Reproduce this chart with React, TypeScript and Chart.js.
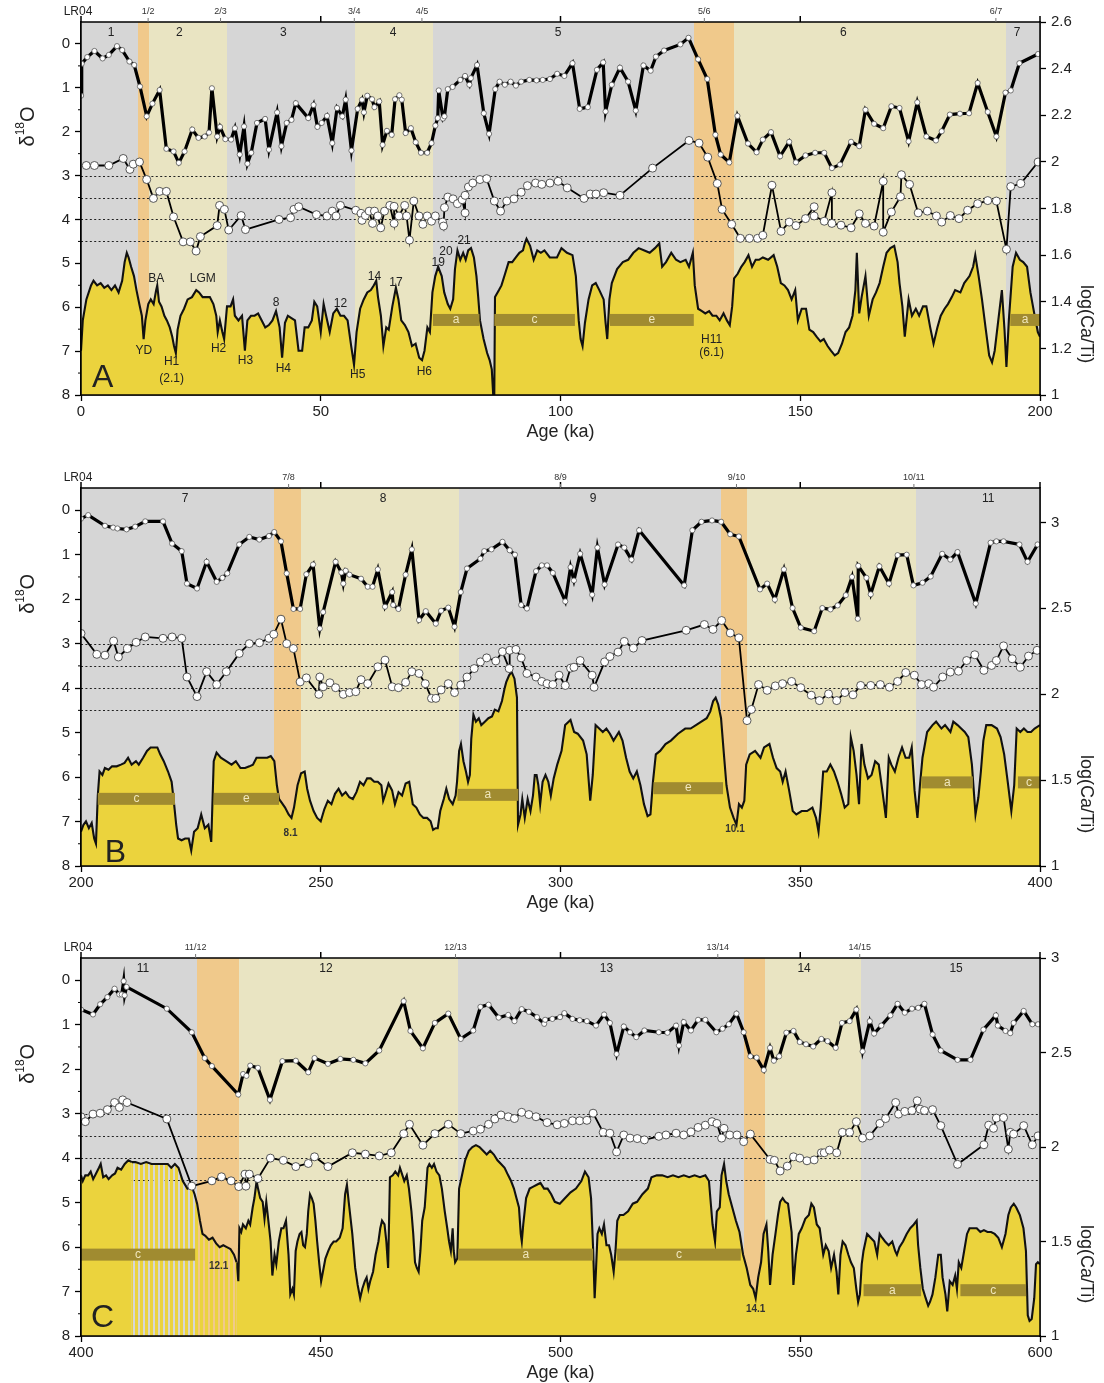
import React, { useEffect, useRef } from "react";
import { Chart, registerables } from "chart.js";

Chart.register(...registerables);

type Pair = [number, number];
type Band = [number, number, string];
type Bar = [number, number, number, string];
type Note = [string, number, number];
type Label = [string, number];

// ================= Panel A (0–200 ka) =================
const upperA: Pair[] = [
  [0, 1.18], [0.15, 0.45], [1.3, 0.3], [2.8, 0.16], [4.5, 0.33], [5.8, 0.25], [7.5, 0.05], [8.6, 0.14], [10.1, 0.4], [11.1, 0.48],
  [12.3, 0.97], [13.7, 1.65], [14.9, 1.36], [16.4, 1.05], [17.8, 2.39], [19.3, 2.45], [20.4, 2.71], [21.6, 2.45], [23.2, 1.95], [24.5, 2.14],
  [25.8, 2.11], [26.7, 2.02], [27.3, 1.01], [28.4, 2.11], [29.0, 1.89], [30.1, 2.17], [31.3, 2.18], [32.1, 1.92], [33.1, 2.52], [34.0, 1.88],
  [34.7, 2.73], [35.5, 2.48], [36.7, 1.8], [38.4, 1.71], [39.2, 2.41], [40.9, 1.56], [41.8, 2.33], [42.9, 1.8], [43.9, 1.73], [44.8, 1.35],
  [47.4, 1.69], [48.5, 1.39], [49.3, 1.89], [50.2, 1.8], [51.3, 1.64], [52.4, 2.26], [53.4, 1.46], [54.5, 1.65], [55.2, 1.27], [56.4, 2.43],
  [57.7, 1.48], [58.6, 1.27], [59.0, 1.56], [59.7, 1.18], [60.7, 1.26], [61.2, 1.44], [62.2, 1.31], [62.9, 2.3], [63.8, 1.98], [64.8, 2.07],
  [65.5, 1.26], [66.4, 1.17], [66.9, 1.27], [67.7, 2.03], [68.8, 1.92], [69.8, 2.24], [70.9, 2.48], [72.2, 2.48], [73.1, 2.26], [73.9, 1.86],
  [74.4, 1.69], [74.6, 1.06], [75.5, 1.7], [75.8, 1.65], [76.5, 1.03], [77.5, 0.98], [79.1, 0.82], [80.1, 0.73], [81.0, 0.93], [81.3, 0.78],
  [82.6, 0.48], [84.0, 1.58], [85.1, 2.05], [86.4, 1.03], [87.3, 0.86], [88.4, 0.93], [89.6, 0.86], [90.7, 0.95], [91.8, 0.86], [93.5, 0.82],
  [95.0, 0.83], [96.3, 0.82], [97.8, 0.8], [99.3, 0.68], [100.8, 0.73], [102.5, 0.44], [104.0, 1.48], [105.7, 1.44], [107.6, 0.59], [108.9, 0.42],
  [109.4, 1.54], [110.7, 0.93], [112.4, 0.54], [114.1, 0.86], [115.7, 1.52], [117.3, 0.49], [118.8, 0.61], [119.9, 0.29], [121.6, 0.15], [125.0, 0.01],
  [126.7, -0.14], [128.7, 0.35], [130.6, 0.8], [132.3, 2.07], [133.4, 2.52], [135.2, 2.7], [136.9, 1.64], [139.1, 2.27], [140.9, 2.47], [142.2, 2.18],
  [143.9, 2.01], [145.8, 2.56], [147.7, 2.23], [149.1, 2.7], [151.1, 2.54], [153.1, 2.48], [155.0, 2.48], [156.6, 2.83], [158.3, 2.75], [160.6, 2.23],
  [162.3, 2.33], [163.6, 1.5], [165.4, 1.82], [167.3, 1.92], [169.0, 1.42], [170.7, 1.46], [172.6, 2.22], [174.4, 1.33], [176.3, 2.11], [178.3, 2.2],
  [179.5, 1.99], [181.2, 1.61], [183.3, 1.59], [185.2, 1.58], [187.0, 0.89], [189.1, 1.55], [190.9, 2.11], [192.8, 1.11], [193.9, 1.06], [195.7, 0.44],
  [199.6, 0.23],
];
const lowerA: Pair[] = [
  [1.1, 2.77], [2.8, 2.77], [5.8, 2.77], [8.8, 2.61], [10.2, 2.86], [10.9, 2.74], [12.2, 2.69], [13.7, 3.09], [15.1, 3.52], [16.4, 3.36],
  [17.8, 3.36], [19.3, 3.94], [21.3, 4.51], [22.8, 4.51], [24.0, 4.72], [24.9, 4.39], [28.4, 4.14], [28.9, 3.68], [29.9, 3.77], [30.8, 4.24],
  [33.4, 3.91], [34.3, 4.23], [41.3, 4.0], [43.7, 3.96], [44.4, 3.77], [45.4, 3.71], [49.1, 3.89], [51.3, 3.92], [52.4, 3.81], [53.2, 3.92],
  [54.1, 3.68], [57.3, 3.79], [58.4, 3.86], [58.6, 4.02], [59.3, 3.91], [60.1, 3.81], [60.8, 4.09], [61.2, 3.81], [61.9, 3.92], [62.5, 4.19],
  [63.3, 3.81], [64.4, 3.68], [65.3, 4.09], [65.3, 3.7], [66.3, 3.92], [67.5, 3.68], [67.9, 3.92], [68.5, 4.47], [69.4, 3.58], [70.5, 3.92],
  [71.3, 4.11], [72.2, 3.92], [73.1, 4.04], [73.9, 3.92], [75.4, 4.06], [75.6, 4.15], [75.8, 3.73], [76.5, 3.49], [77.6, 3.53], [78.5, 3.64],
  [79.5, 3.55], [80.1, 3.85], [80.1, 3.45], [80.8, 3.26], [81.7, 3.17], [83.2, 3.09], [84.6, 3.07], [86.2, 3.58], [87.5, 3.81], [88.8, 3.58],
  [90.3, 3.53], [91.8, 3.38], [93.1, 3.23], [94.8, 3.17], [96.1, 3.2], [97.8, 3.17], [99.5, 3.13], [101.4, 3.28], [104.9, 3.52], [106.2, 3.42],
  [107.4, 3.42], [109.0, 3.39], [112.4, 3.45], [119.2, 2.83], [126.8, 2.2], [128.9, 2.26], [130.7, 2.58], [132.7, 3.18], [133.7, 3.77], [135.7, 4.11],
  [137.5, 4.43], [139.4, 4.43], [141.1, 4.43], [142.2, 4.36], [144.1, 3.22], [146.0, 4.27], [147.7, 4.06], [149.1, 4.14], [151.1, 3.98], [152.9, 3.71],
  [152.9, 3.92], [155.0, 4.04], [156.6, 3.39], [156.6, 4.09], [158.5, 4.13], [160.6, 4.19], [162.3, 3.87], [163.6, 4.09], [165.4, 4.15], [167.3, 3.13],
  [167.3, 4.29], [169.0, 3.83], [170.9, 3.48], [171.1, 2.98], [172.8, 3.2], [174.6, 3.85], [176.5, 3.81], [178.4, 3.92], [179.5, 4.06], [181.3, 3.91],
  [183.1, 3.98], [184.9, 3.79], [187.0, 3.64], [189.1, 3.57], [190.9, 3.58], [193.0, 4.68], [193.9, 3.25], [196.0, 3.18], [199.6, 2.69],
];
const caTiA: Pair[] = [
  [0, 1.19], [0.37, 1.32], [1.12, 1.41], [2.09, 1.47], [2.61, 1.49], [3.36, 1.47], [4.1, 1.48], [4.85, 1.46], [5.6, 1.47], [6.34, 1.45],
  [7.09, 1.47], [7.84, 1.44], [8.58, 1.49], [9.1, 1.57], [9.55, 1.61], [9.93, 1.59], [10.45, 1.55], [11.05, 1.51], [11.57, 1.45], [12.16, 1.39],
  [12.69, 1.34], [13.06, 1.24], [13.43, 1.32], [14.03, 1.39], [14.55, 1.41], [15.15, 1.39], [15.67, 1.45], [15.9, 1.47], [16.27, 1.4], [16.79, 1.38],
  [17.39, 1.34], [17.91, 1.32], [18.51, 1.29], [19.03, 1.25], [19.4, 1.21], [19.78, 1.18], [20.15, 1.28], [20.75, 1.34], [21.49, 1.37], [22.24, 1.41],
  [23.14, 1.42], [24.03, 1.45], [24.63, 1.44], [25.37, 1.42], [26.12, 1.42], [26.87, 1.42], [27.61, 1.39], [28.21, 1.34], [28.51, 1.27], [28.96, 1.32],
  [29.48, 1.27], [29.85, 1.24], [30.45, 1.38], [31.19, 1.38], [31.72, 1.41], [32.09, 1.34], [32.84, 1.32], [33.58, 1.34], [34.18, 1.19], [34.7, 1.32],
  [35.45, 1.34], [36.2, 1.34], [36.94, 1.35], [37.69, 1.32], [38.43, 1.29], [39.18, 1.3], [39.93, 1.32], [40.67, 1.36], [41.42, 1.29], [41.94, 1.16],
  [42.54, 1.31], [43.14, 1.34], [43.88, 1.33], [44.63, 1.32], [45.37, 1.19], [46.12, 1.19], [46.64, 1.29], [47.39, 1.29], [48.14, 1.32], [48.66, 1.4],
  [49.26, 1.38], [50.0, 1.27], [50.6, 1.39], [51.12, 1.34], [51.87, 1.27], [52.61, 1.35], [53.36, 1.37], [54.11, 1.34], [54.85, 1.34], [55.6, 1.32],
  [56.35, 1.21], [56.94, 1.13], [57.47, 1.27], [58.21, 1.37], [58.96, 1.41], [59.7, 1.44], [60.45, 1.45], [61.05, 1.47], [61.57, 1.49], [61.94, 1.42],
  [62.54, 1.34], [63.06, 1.21], [63.66, 1.29], [64.18, 1.28], [64.93, 1.38], [65.67, 1.46], [66.2, 1.41], [66.79, 1.32], [67.54, 1.3], [68.29, 1.27],
  [69.03, 1.21], [69.78, 1.22], [70.53, 1.16], [71.12, 1.15], [71.64, 1.19], [72.24, 1.29], [72.76, 1.27], [73.29, 1.44], [73.88, 1.51], [74.48, 1.55],
  [75.23, 1.51], [75.75, 1.44], [76.49, 1.39], [77.01, 1.37], [77.61, 1.41], [77.99, 1.54], [78.51, 1.62], [79.1, 1.58], [79.7, 1.61], [80.23, 1.58],
  [80.75, 1.62], [81.34, 1.63], [81.94, 1.59], [82.47, 1.51], [82.84, 1.42], [83.21, 1.32], [83.96, 1.24], [84.7, 1.18], [85.22, 1.15], [85.67, 1.11],
  [85.97, 1.0], [86.19, 1.0], [86.34, 1.42], [87.17, 1.45], [87.69, 1.47], [88.44, 1.52], [89.18, 1.57], [89.93, 1.57], [90.68, 1.59], [91.42, 1.61],
  [92.17, 1.62], [92.54, 1.65], [92.91, 1.67], [93.66, 1.64], [94.41, 1.58], [95.15, 1.62], [95.9, 1.61], [96.65, 1.62], [97.77, 1.59], [99.26, 1.59],
  [100.2, 1.63], [101.35, 1.61], [102.5, 1.6], [103.2, 1.51], [103.8, 1.32], [104.2, 1.24], [104.6, 1.21], [105.1, 1.31], [105.85, 1.41], [106.6, 1.47],
  [107.35, 1.48], [108.1, 1.45], [109.0, 1.41], [109.4, 1.31], [109.75, 1.24], [110.2, 1.41], [110.7, 1.48], [111.8, 1.54], [113.0, 1.57], [114.1, 1.58],
  [115.2, 1.61], [116.3, 1.63], [117.5, 1.62], [118.6, 1.61], [119.7, 1.63], [120.6, 1.65], [121.2, 1.55], [122.0, 1.57], [123.1, 1.61], [124.1, 1.58],
  [125.0, 1.57], [126.1, 1.58], [126.8, 1.55], [127.6, 1.61], [128.0, 1.47], [128.7, 1.37], [129.5, 1.36], [130.2, 1.35], [131.0, 1.36], [131.7, 1.34],
  [132.5, 1.34], [133.2, 1.32], [134.0, 1.35], [134.7, 1.32], [135.3, 1.3], [135.8, 1.38], [136.2, 1.5], [136.95, 1.52], [137.7, 1.55], [138.4, 1.57],
  [139.2, 1.6], [139.95, 1.55], [140.7, 1.58], [141.4, 1.58], [142.2, 1.59], [143.3, 1.58], [144.45, 1.6], [145.2, 1.55], [145.95, 1.48], [146.7, 1.47],
  [147.45, 1.45], [148.2, 1.41], [148.95, 1.45], [149.5, 1.32], [150.3, 1.37], [151.2, 1.37], [151.9, 1.28], [152.7, 1.27], [153.4, 1.25], [154.2, 1.23],
  [154.9, 1.24], [155.7, 1.21], [156.4, 1.19], [157.2, 1.17], [157.9, 1.18], [158.7, 1.22], [159.45, 1.27], [160.2, 1.29], [160.9, 1.34], [161.5, 1.45],
  [161.8, 1.61], [162.3, 1.35], [162.8, 1.42], [163.6, 1.51], [164.3, 1.34], [165.1, 1.41], [165.8, 1.44], [166.55, 1.48], [167.3, 1.55], [168.0, 1.61],
  [168.8, 1.63], [169.6, 1.64], [170.3, 1.57], [170.7, 1.48], [171.3, 1.38], [171.8, 1.25], [172.6, 1.41], [173.3, 1.34], [174.1, 1.37], [174.8, 1.34],
  [175.6, 1.38], [176.3, 1.38], [177.1, 1.29], [177.8, 1.22], [178.6, 1.29], [179.3, 1.34], [180.1, 1.37], [180.8, 1.39], [181.6, 1.42], [182.3, 1.45],
  [183.4, 1.44], [184.2, 1.48], [185.3, 1.51], [186.05, 1.55], [186.5, 1.6], [187.2, 1.51], [187.9, 1.41], [188.7, 1.28], [189.4, 1.17], [190.0, 1.14],
  [190.55, 1.19], [191.3, 1.32], [192.05, 1.45], [192.6, 1.28], [193.0, 1.12], [193.5, 1.32], [194.3, 1.55], [195.0, 1.61], [195.8, 1.58], [196.5, 1.57],
  [197.3, 1.55], [198.0, 1.44], [198.8, 1.35], [199.55, 1.27], [200, 1.25],
];
const bandsA: Band[] = [
  [0, 11.9, "g"], [11.9, 14.2, "o"], [14.2, 30.4, "y"], [30.4, 57.2, "g"], [57.2, 73.5, "y"], [73.5, 127.8, "g"],
  [127.8, 136.1, "o"], [136.1, 193, "y"], [193, 200, "g"],
];
const barsA: Bar[] = [[73.4, 83.1, 6.29, "a"], [86.2, 103.0, 6.29, "c"], [110.3, 127.8, 6.29, "e"], [193.8, 200, 6.29, "a"]];
const notesA: Note[] = [
  ["YD", 13.1, 6.99], ["BA", 15.7, 5.34], ["H1", 18.9, 7.24], ["(2.1)", 18.9, 7.62], ["LGM", 25.4, 5.34], ["H2", 28.7, 6.94],
  ["H3", 34.3, 7.22], ["8", 40.7, 5.89], ["H4", 42.2, 7.41], ["12", 54.1, 5.91], ["H5", 57.7, 7.54], ["14", 61.2, 5.31],
  ["17", 65.7, 5.44], ["H6", 71.6, 7.47], ["19", 74.5, 4.99], ["20", 76.1, 4.74], ["21", 79.9, 4.48], ["H11", 131.5, 6.74], ["(6.1)", 131.5, 7.03],
];
const smallNotesA: Note[] = [];
const stagesA: Label[] = [["1", 6.3], ["2", 20.5], ["3", 42.2], ["4", 65.1], ["5", 99.5], ["6", 159], ["7", 195.2]];
const boundsA: Label[] = [["1/2", 14], ["2/3", 29.1], ["3/4", 57], ["4/5", 71.1], ["5/6", 130], ["6/7", 190.8]];
const letterA: Note = ["A", 4.5, 7.62];
const xTicksA = [0, 50, 100, 150, 200];
const rTicksA = [1, 1.2, 1.4, 1.6, 1.8, 2, 2.2, 2.4, 2.6];

// ================= Panel B (200–400 ka) =================
const upperB: Pair[] = [
  [200, 0.19], [201.5, 0.11], [205.0, 0.35], [206.7, 0.39], [207.6, 0.41], [209.5, 0.43], [211.3, 0.37], [213.4, 0.25], [217.1, 0.25], [219.0, 0.75],
  [221.0, 0.92], [222.1, 1.65], [224.2, 1.76], [226.2, 1.16], [228.3, 1.61], [229.5, 1.52], [230.5, 1.42], [233.0, 0.77], [235.1, 0.6], [237.2, 0.66],
  [239.2, 0.58], [240.3, 0.49], [241.7, 0.7], [242.9, 1.42], [244.3, 2.22], [245.7, 2.22], [247.0, 1.44], [248.4, 1.22], [249.8, 2.66], [250.5, 2.29],
  [253.1, 1.16], [254.3, 1.4], [254.7, 1.65], [255.2, 1.36], [256.0, 1.45], [258.4, 1.54], [259.8, 1.72], [260.8, 1.72], [261.9, 1.33], [263.4, 2.17],
  [264.9, 1.84], [265.1, 2.13], [266.2, 2.22], [267.7, 1.45], [269.0, 0.88], [270.5, 2.47], [271.9, 2.27], [274.0, 2.55], [275.1, 2.26], [276.6, 2.19],
  [277.9, 2.62], [279.2, 1.84], [280.5, 1.31], [283.3, 1.09], [284.1, 0.92], [285.6, 0.88], [287.9, 0.71], [289.4, 0.9], [290.5, 1.0], [291.8, 2.13],
  [293.0, 2.21], [294.9, 1.37], [296.1, 1.24], [297.2, 1.24], [298.4, 1.41], [301.0, 2.05], [302.1, 1.28], [302.8, 1.58], [304.1, 0.98], [306.6, 1.9],
  [307.7, 0.84], [309.2, 1.67], [312.0, 0.77], [313.3, 0.84], [314.8, 1.11], [316.4, 0.45], [325.8, 1.69], [327.5, 0.45], [329.4, 0.26], [331.6, 0.23],
  [333.5, 0.26], [335.4, 0.54], [337.2, 0.59], [341.6, 1.78], [343.1, 1.65], [344.7, 2.01], [346.6, 1.33], [348.4, 2.2], [350.1, 2.64], [352.9, 2.72],
  [354.6, 2.2], [356.3, 2.23], [357.8, 2.14], [359.5, 1.91], [360.8, 1.5], [362.0, 2.44], [362.1, 1.25], [363.8, 1.52], [364.7, 1.89], [366.5, 1.26],
  [368.5, 1.65], [370.3, 1.01], [372.2, 1.0], [373.6, 1.69], [375.5, 1.63], [377.2, 1.49], [379.6, 0.98], [381.3, 1.11], [382.8, 0.94], [386.6, 2.1],
  [389.7, 0.73], [390.9, 0.7], [392.4, 0.7], [395.7, 0.77], [397.4, 1.16], [399.5, 0.77],
];
const lowerB: Pair[] = [
  [200, 2.77], [203.3, 3.24], [205.0, 3.26], [206.8, 2.94], [207.8, 3.3], [209.7, 3.11], [211.5, 2.97], [213.4, 2.85], [217.1, 2.88], [219.0, 2.85],
  [221.0, 2.88], [222.1, 3.75], [224.2, 4.19], [226.2, 3.63], [228.3, 3.92], [230.3, 3.63], [233.0, 3.22], [235.1, 3.0], [237.2, 2.98], [239.2, 2.88],
  [240.2, 2.79], [241.7, 2.45], [242.9, 3.0], [244.3, 3.11], [245.7, 3.86], [247.0, 3.77], [249.6, 4.14], [249.8, 3.75], [250.5, 3.97], [251.9, 3.88],
  [253.1, 3.99], [254.7, 4.14], [256.0, 4.1], [257.3, 4.08], [258.4, 3.81], [259.8, 3.9], [261.9, 3.52], [263.4, 3.37], [264.9, 3.97], [266.2, 3.99],
  [267.7, 3.87], [269.0, 3.63], [270.5, 3.67], [271.8, 3.9], [273.1, 4.23], [274.0, 4.23], [275.1, 4.04], [276.6, 3.9], [277.9, 4.1], [279.2, 3.93],
  [280.5, 3.75], [282.0, 3.56], [283.3, 3.41], [284.6, 3.32], [286.5, 3.39], [287.9, 3.18], [289.3, 3.56], [289.4, 3.15], [290.7, 3.13], [291.8, 3.32],
  [293.0, 3.67], [294.9, 3.75], [296.1, 3.85], [297.2, 3.9], [298.4, 3.92], [299.7, 3.71], [301.0, 3.94], [302.1, 3.55], [302.8, 3.53], [304.1, 3.38],
  [306.6, 3.71], [307.0, 3.98], [309.2, 3.41], [310.3, 3.29], [312.0, 3.19], [313.3, 2.95], [315.2, 3.1], [317.0, 2.93], [326.2, 2.7], [330.0, 2.57],
  [331.8, 2.68], [333.6, 2.48], [335.4, 2.76], [337.2, 2.87], [338.9, 4.73], [339.8, 4.48], [341.3, 3.92], [343.1, 4.05], [344.8, 3.95], [346.3, 3.9],
  [348.2, 3.85], [350.1, 3.99], [352.3, 4.16], [354.0, 4.28], [355.9, 4.13], [357.6, 4.28], [359.3, 4.1], [361.0, 4.15], [362.6, 3.94], [364.7, 3.94],
  [366.7, 3.92], [368.6, 3.98], [370.3, 3.85], [372.0, 3.65], [373.8, 3.71], [375.3, 3.92], [376.8, 3.9], [377.8, 3.98], [379.7, 3.75], [381.3, 3.64],
  [383.0, 3.62], [384.7, 3.38], [386.4, 3.25], [388.3, 3.6], [389.9, 3.49], [390.9, 3.38], [392.4, 3.05], [394.2, 3.34], [395.9, 3.53], [397.6, 3.28],
  [399.4, 3.15],
];
const caTiB: Pair[] = [
  [200, 1.2], [200.52, 1.24], [201.04, 1.26], [201.64, 1.22], [202.23, 1.25], [202.75, 1.16], [203.12, 1.13], [203.5, 1.41], [203.87, 1.55], [204.46, 1.53],
  [204.98, 1.57], [205.73, 1.56], [206.47, 1.58], [207.44, 1.58], [208.33, 1.59], [209.08, 1.6], [209.82, 1.63], [210.56, 1.59], [211.46, 1.61], [212.05, 1.59],
  [212.95, 1.63], [213.76, 1.67], [214.51, 1.69], [215.25, 1.69], [215.92, 1.69], [216.52, 1.65], [217.26, 1.61], [218.15, 1.55], [218.9, 1.49], [219.34, 1.38],
  [219.86, 1.24], [220.24, 1.16], [220.98, 1.15], [221.72, 1.16], [222.47, 1.16], [222.99, 1.09], [223.58, 1.2], [224.33, 1.22], [225.07, 1.3], [225.82, 1.22],
  [226.56, 1.24], [227.16, 1.14], [227.68, 1.61], [228.27, 1.66], [229.16, 1.63], [230.28, 1.61], [231.4, 1.59], [232.29, 1.61], [233.26, 1.57], [234.22, 1.57],
  [235.12, 1.58], [235.86, 1.59], [236.6, 1.63], [237.35, 1.63], [238.09, 1.63], [238.84, 1.63], [239.58, 1.64], [240.32, 1.61], [240.85, 1.47], [241.29, 1.39],
  [241.81, 1.37], [242.56, 1.34], [243.3, 1.3], [243.9, 1.28], [244.42, 1.34], [245.16, 1.47], [245.9, 1.54], [246.65, 1.55], [247.17, 1.45], [247.76, 1.38],
  [248.51, 1.32], [249.25, 1.28], [250.0, 1.26], [250.74, 1.33], [251.48, 1.38], [252.23, 1.36], [252.97, 1.42], [253.72, 1.45], [254.46, 1.41], [255.2, 1.43],
  [255.95, 1.4], [256.69, 1.39], [257.44, 1.43], [258.18, 1.49], [258.92, 1.47], [259.67, 1.51], [260.41, 1.51], [261.16, 1.49], [261.9, 1.49], [262.64, 1.47],
  [263.02, 1.38], [263.39, 1.41], [264.13, 1.48], [264.88, 1.44], [265.47, 1.36], [266.22, 1.43], [266.96, 1.41], [267.7, 1.48], [268.45, 1.49], [269.19, 1.36],
  [269.94, 1.34], [270.68, 1.3], [271.42, 1.28], [272.17, 1.28], [272.91, 1.26], [273.43, 1.21], [273.95, 1.22], [274.4, 1.22], [274.92, 1.32], [275.66, 1.39],
  [276.19, 1.45], [276.78, 1.39], [277.52, 1.36], [278.12, 1.41], [278.42, 1.49], [278.86, 1.67], [279.24, 1.71], [279.76, 1.61], [280.28, 1.55], [280.72, 1.49],
  [281.1, 1.53], [281.39, 1.74], [281.84, 1.88], [282.36, 1.84], [282.96, 1.86], [283.48, 1.82], [284.22, 1.84], [284.96, 1.86], [285.71, 1.87], [286.3, 1.91],
  [287.05, 1.9], [287.79, 1.96], [288.31, 2.03], [288.68, 2.07], [289.28, 2.11], [289.8, 2.13], [290.4, 2.09], [290.92, 1.98], [291.14, 1.24], [291.66, 1.3],
  [292.03, 1.39], [292.55, 1.28], [293.15, 1.39], [293.74, 1.32], [294.26, 1.41], [294.64, 1.53], [295.01, 1.53], [295.38, 1.47], [295.76, 1.36], [296.27, 1.49],
  [296.87, 1.53], [297.46, 1.49], [297.98, 1.41], [298.58, 1.51], [299.32, 1.59], [300.22, 1.67], [300.97, 1.82], [302.09, 1.85], [302.84, 1.78], [303.59, 1.77],
  [304.71, 1.73], [305.46, 1.65], [306.2, 1.38], [306.73, 1.53], [307.32, 1.82], [308.07, 1.8], [308.82, 1.78], [309.57, 1.8], [310.31, 1.77], [311.06, 1.73],
  [312.18, 1.78], [312.93, 1.73], [313.68, 1.63], [314.42, 1.55], [315.17, 1.51], [315.92, 1.55], [316.67, 1.47], [317.41, 1.36], [318.16, 1.29], [318.76, 1.3],
  [319.28, 1.49], [319.88, 1.65], [320.78, 1.67], [321.9, 1.71], [323.02, 1.73], [324.51, 1.77], [326.01, 1.8], [327.13, 1.8], [328.25, 1.82], [329.37, 1.84],
  [330.49, 1.86], [331.24, 1.9], [331.84, 1.96], [332.36, 1.98], [332.89, 1.94], [333.48, 1.86], [334.08, 1.65], [334.61, 1.47], [335.35, 1.34], [336.1, 1.28],
  [336.7, 1.24], [337.22, 1.36], [337.82, 1.34], [338.34, 1.38], [338.72, 1.59], [339.46, 1.65], [340.58, 1.67], [341.71, 1.63], [342.45, 1.69], [343.57, 1.71],
  [344.32, 1.63], [345.07, 1.57], [345.82, 1.55], [346.34, 1.49], [346.94, 1.55], [347.68, 1.44], [348.43, 1.32], [349.18, 1.3], [350.3, 1.32], [351.42, 1.32],
  [352.54, 1.34], [353.29, 1.28], [353.81, 1.2], [354.26, 1.34], [354.78, 1.55], [355.53, 1.55], [356.28, 1.59], [357.03, 1.55], [357.78, 1.49], [358.52, 1.42],
  [359.27, 1.34], [360.02, 1.36], [360.54, 1.75], [361.14, 1.67], [361.74, 1.53], [362.26, 1.36], [362.78, 1.71], [363.38, 1.59], [364.13, 1.51], [364.87, 1.53],
  [365.62, 1.61], [366.37, 1.59], [367.12, 1.44], [367.86, 1.28], [368.46, 1.63], [368.99, 1.59], [369.73, 1.55], [370.48, 1.63], [371.23, 1.69], [371.97, 1.63],
  [372.72, 1.63], [373.25, 1.69], [373.84, 1.44], [374.44, 1.28], [374.96, 1.47], [375.49, 1.63], [376.46, 1.78], [377.58, 1.82], [378.33, 1.84], [379.45, 1.8],
  [380.2, 1.82], [381.32, 1.78], [381.92, 1.84], [382.81, 1.82], [383.56, 1.8], [384.31, 1.78], [385.05, 1.75], [385.8, 1.59], [386.55, 1.3], [387.15, 1.4],
  [387.67, 1.55], [388.19, 1.73], [388.79, 1.82], [389.91, 1.82], [391.03, 1.8], [391.78, 1.75], [392.53, 1.65], [393.27, 1.49], [394.02, 1.32], [394.62, 1.47],
  [395.14, 1.8], [395.89, 1.78], [396.64, 1.8], [397.39, 1.78], [398.13, 1.78], [398.88, 1.8], [400, 1.82],
];
const bandsB: Band[] = [
  [200, 240.3, "g"], [240.3, 245.8, "o"], [245.8, 278.8, "y"], [278.8, 333.4, "g"], [333.4, 338.9, "o"], [338.9, 374.2, "y"], [374.2, 400, "g"],
];
const barsB: Bar[] = [
  [203.5, 219.6, 6.49, "c"], [227.7, 241.3, 6.49, "e"], [278.5, 291.2, 6.4, "a"], [319.4, 333.9, 6.25, "e"], [375.3, 386.0, 6.12, "a"], [395.4, 400, 6.12, "c"],
];
const notesB: Note[] = [];
const smallNotesB: Note[] = [["8.1", 243.7, 7.27], ["10.1", 336.4, 7.18]];
const stagesB: Label[] = [["7", 221.7], ["8", 263], ["9", 306.8], ["11", 389.2]];
const boundsB: Label[] = [["7/8", 243.3], ["8/9", 300], ["9/10", 336.7], ["10/11", 373.7]];
const letterB: Note = ["B", 207.2, 7.72];
const xTicksB = [200, 250, 300, 350, 400];
const rTicksB = [1, 1.5, 2, 2.5, 3];

// ================= Panel C (400–600 ka) =================
const upperC: Pair[] = [
  [400, 0.66], [402.5, 0.77], [404.0, 0.54], [405.5, 0.38], [407.0, 0.19], [408.0, 0.32], [408.5, 0.32], [408.9, 0.02], [409.1, 0.34], [409.5, 0.15],
  [417.9, 0.64], [423.1, 1.17], [425.8, 1.75], [427.3, 1.93], [432.8, 2.57], [433.8, 2.11], [434.5, 2.15], [435.3, 1.92], [436.9, 1.97], [439.4, 2.69],
  [442.0, 1.82], [444.8, 1.81], [447.4, 2.07], [448.7, 1.75], [451.5, 1.88], [454.1, 1.77], [456.8, 1.79], [459.3, 1.87], [462.2, 1.58], [467.3, 0.47],
  [468.7, 1.14], [471.3, 1.53], [473.8, 0.96], [476.6, 0.75], [479.2, 1.32], [481.8, 1.13], [483.3, 0.6], [485.0, 0.55], [487.1, 0.84], [489.1, 0.78],
  [490.4, 0.92], [491.9, 0.65], [493.4, 0.71], [495.1, 0.83], [496.6, 0.98], [496.8, 0.89], [498.3, 0.87], [499.9, 0.83], [500.8, 0.74], [502.5, 0.87],
  [504.0, 0.9], [505.5, 0.92], [507.4, 1.02], [509.1, 0.77], [510.3, 0.96], [511.7, 1.66], [513.2, 1.04], [514.5, 1.17], [515.8, 1.28], [517.5, 1.13],
  [520.5, 1.17], [522.3, 1.18], [524.1, 1.02], [524.7, 1.47], [525.7, 0.94], [527.2, 1.13], [528.7, 0.89], [530.2, 0.89], [532.5, 1.17], [533.8, 1.09],
  [535.1, 0.99], [536.7, 0.75], [538.2, 1.17], [539.6, 1.71], [540.9, 1.74], [542.4, 2.02], [543.7, 1.52], [544.5, 1.81], [545.6, 1.71], [547.1, 1.18],
  [548.6, 1.14], [549.9, 1.39], [551.2, 1.44], [552.7, 1.49], [554.4, 1.32], [555.7, 1.37], [557.4, 1.52], [558.7, 0.96], [560.3, 0.92], [561.7, 0.66],
  [563.0, 1.6], [564.5, 0.92], [565.4, 1.2], [566.9, 1.02], [568.8, 0.79], [570.3, 0.53], [571.8, 0.73], [573.3, 0.64], [574.6, 0.62], [575.9, 0.53],
  [577.6, 1.22], [579.3, 1.58], [582.8, 1.79], [585.5, 1.79], [588.2, 1.11], [590.8, 0.79], [591.2, 1.02], [592.8, 1.14], [593.8, 1.19], [594.5, 0.96],
  [596.6, 0.69], [598.4, 0.99], [599.6, 0.99],
];
const lowerC: Pair[] = [
  [400, 3.07], [400.9, 3.18], [402.5, 3.01], [404.0, 2.99], [405.5, 2.91], [407.0, 2.75], [408.0, 2.86], [408.7, 2.69], [409.6, 2.75], [417.9, 3.12],
  [423.1, 4.63], [427.3, 4.51], [429.3, 4.42], [431.3, 4.51], [432.9, 4.64], [434.2, 4.36], [434.4, 4.63], [435.1, 4.36], [436.9, 4.46], [439.5, 4.0],
  [442.2, 4.05], [444.8, 4.19], [447.4, 4.12], [448.7, 3.97], [451.5, 4.19], [456.6, 3.88], [459.3, 3.91], [462.2, 3.95], [464.7, 3.88], [467.3, 3.45],
  [468.5, 3.24], [471.3, 3.71], [473.8, 3.45], [476.6, 3.24], [479.2, 3.45], [481.8, 3.39], [483.3, 3.35], [485.0, 3.24], [486.3, 3.12], [487.6, 3.03],
  [489.1, 3.07], [490.4, 3.11], [491.9, 2.97], [493.4, 3.02], [494.9, 3.07], [497.2, 3.2], [499.3, 3.25], [500.8, 3.22], [502.5, 3.16], [504.0, 3.16],
  [505.5, 3.15], [506.8, 2.99], [508.9, 3.42], [510.3, 3.44], [511.7, 3.86], [513.2, 3.48], [514.5, 3.55], [516.0, 3.56], [517.5, 3.59], [520.5, 3.51],
  [522.0, 3.48], [524.1, 3.44], [525.7, 3.48], [527.2, 3.41], [528.7, 3.31], [530.2, 3.26], [531.6, 3.18], [532.6, 3.22], [533.6, 3.55], [534.1, 3.33],
  [535.3, 3.48], [536.8, 3.48], [538.2, 3.63], [539.6, 3.46], [543.7, 4.03], [544.6, 4.05], [545.8, 4.29], [547.3, 4.18], [548.6, 3.97], [549.9, 4.0],
  [551.4, 4.06], [552.9, 4.04], [554.4, 3.88], [555.0, 3.88], [556.1, 3.82], [557.6, 3.88], [558.8, 3.42], [560.3, 3.42], [561.7, 3.18], [563.0, 3.55],
  [564.5, 3.5], [566.6, 3.22], [567.8, 3.11], [569.9, 2.75], [570.5, 3.01], [571.8, 2.95], [573.3, 2.93], [574.4, 2.71], [575.0, 2.9], [575.9, 2.93],
  [577.6, 2.91], [579.3, 3.27], [582.8, 4.14], [588.3, 3.7], [589.3, 3.26], [590.3, 3.33], [590.9, 3.1], [592.4, 3.09], [593.4, 3.8], [593.8, 3.42],
  [594.5, 3.46], [596.6, 3.27], [598.4, 3.7], [599.6, 3.5],
];
const caTiC: Pair[] = [
  [400, 1.85], [400.37, 1.82], [400.9, 1.85], [401.49, 1.85], [402.02, 1.87], [402.54, 1.83], [403.14, 1.86], [403.74, 1.89], [404.11, 1.91], [404.63, 1.84],
  [405.23, 1.85], [405.76, 1.83], [406.5, 1.85], [407.1, 1.86], [407.62, 1.89], [408.37, 1.88], [409.12, 1.91], [409.87, 1.93], [410.61, 1.92], [411.36, 1.92],
  [412.48, 1.91], [413.6, 1.92], [414.72, 1.91], [415.84, 1.91], [416.97, 1.91], [418.09, 1.91], [418.83, 1.89], [419.58, 1.91], [420.33, 1.89], [421.23, 1.82],
  [422.2, 1.78], [423.09, 1.79], [423.69, 1.75], [424.22, 1.7], [424.81, 1.61], [425.34, 1.54], [425.93, 1.53], [426.68, 1.51], [427.43, 1.52], [428.18, 1.49],
  [428.92, 1.47], [429.67, 1.48], [430.42, 1.47], [431.17, 1.46], [431.91, 1.43], [432.44, 1.39], [432.81, 1.29], [433.04, 1.57], [433.41, 1.55], [433.78, 1.59],
  [434.38, 1.57], [434.9, 1.61], [435.28, 1.59], [435.8, 1.68], [436.17, 1.73], [436.62, 1.82], [436.92, 1.78], [437.37, 1.73], [437.89, 1.71], [438.27, 1.62],
  [438.64, 1.71], [439.16, 1.59], [439.54, 1.5], [439.91, 1.32], [440.36, 1.43], [440.73, 1.38], [441.26, 1.5], [441.78, 1.57], [442.23, 1.57], [442.75, 1.61],
  [443.28, 1.43], [443.65, 1.22], [444.1, 1.25], [444.4, 1.22], [444.77, 1.45], [445.14, 1.5], [445.59, 1.54], [445.97, 1.55], [446.34, 1.48], [446.71, 1.47],
  [447.09, 1.54], [447.39, 1.66], [447.76, 1.75], [448.13, 1.73], [448.51, 1.7], [448.88, 1.61], [449.25, 1.5], [449.7, 1.38], [450.08, 1.29], [450.6, 1.36],
  [450.97, 1.41], [451.57, 1.45], [452.09, 1.48], [452.69, 1.5], [453.21, 1.5], [453.96, 1.52], [454.56, 1.57], [455.08, 1.75], [455.46, 1.8], [455.83, 1.71],
  [456.58, 1.54], [457.18, 1.36], [457.7, 1.27], [458.22, 1.2], [458.67, 1.25], [459.19, 1.29], [459.57, 1.31], [459.94, 1.25], [460.31, 1.29], [460.91, 1.34],
  [461.44, 1.43], [462.03, 1.5], [462.41, 1.57], [462.78, 1.61], [463.3, 1.59], [463.68, 1.5], [464.05, 1.36], [464.43, 1.84], [465.02, 1.85], [465.55, 1.87],
  [466.14, 1.85], [466.52, 1.89], [467.04, 1.85], [467.42, 1.82], [467.94, 1.85], [468.39, 1.78], [468.91, 1.66], [469.29, 1.54], [469.66, 1.39], [470.04, 1.36],
  [470.41, 1.34], [470.78, 1.45], [471.16, 1.61], [471.68, 1.68], [472.27, 1.89], [472.65, 1.91], [473.17, 1.89], [473.62, 1.91], [474.14, 1.87], [474.74, 1.85],
  [475.26, 1.78], [475.86, 1.66], [476.38, 1.57], [476.76, 1.5], [477.13, 1.45], [477.51, 1.57], [477.73, 1.45], [478.03, 1.39], [478.48, 1.41], [478.85, 1.78],
  [479.37, 1.84], [480.12, 1.93], [480.87, 1.98], [481.62, 2.0], [482.36, 2.01], [483.11, 2.0], [483.86, 1.98], [484.61, 1.96], [485.35, 1.98], [486.1, 1.96],
  [486.85, 1.93], [487.6, 1.91], [488.34, 1.89], [489.09, 1.85], [489.69, 1.82], [490.29, 1.78], [490.81, 1.73], [491.34, 1.68], [491.71, 1.54], [491.93, 1.5],
  [492.23, 1.59], [492.83, 1.73], [493.57, 1.78], [494.32, 1.79], [495.07, 1.8], [495.82, 1.81], [496.57, 1.78], [497.31, 1.78], [498.06, 1.75], [498.81, 1.71],
  [499.85, 1.7], [500.97, 1.73], [502.1, 1.76], [503.22, 1.78], [504.35, 1.82], [505.1, 1.87], [505.85, 1.84], [506.37, 1.73], [506.82, 1.45], [507.12, 1.2],
  [507.42, 1.36], [507.72, 1.54], [508.1, 1.57], [508.62, 1.54], [509.07, 1.59], [509.59, 1.48], [510.12, 1.48], [510.57, 1.43], [511.09, 1.34], [511.47, 1.45],
  [511.84, 1.61], [512.37, 1.64], [513.12, 1.64], [514.09, 1.66], [515.07, 1.7], [515.97, 1.71], [517.09, 1.75], [518.22, 1.78], [518.97, 1.84], [520.09, 1.85],
  [521.21, 1.85], [522.34, 1.84], [523.46, 1.85], [524.59, 1.84], [525.71, 1.85], [526.84, 1.84], [527.96, 1.85], [529.08, 1.84], [530.21, 1.85], [530.96, 1.82],
  [531.71, 1.59], [532.23, 1.5], [532.61, 1.66], [533.21, 1.68], [533.58, 1.85], [534.11, 1.91], [534.56, 1.82], [535.08, 1.75], [535.83, 1.68], [536.58, 1.61],
  [537.33, 1.55], [538.08, 1.43], [538.83, 1.36], [539.58, 1.27], [540.18, 1.25], [540.7, 1.2], [541.23, 1.31], [541.83, 1.39], [542.35, 1.54], [542.95, 1.59],
  [543.33, 1.45], [543.7, 1.27], [544.23, 1.43], [544.83, 1.54], [545.35, 1.64], [545.8, 1.71], [546.33, 1.73], [546.85, 1.71], [547.45, 1.7], [548.2, 1.55],
  [548.57, 1.27], [549.1, 1.43], [549.7, 1.54], [550.3, 1.57], [551.05, 1.62], [551.8, 1.64], [552.32, 1.7], [552.85, 1.68], [553.45, 1.59], [554.05, 1.57],
  [554.8, 1.43], [555.32, 1.48], [555.92, 1.45], [556.44, 1.36], [557.04, 1.43], [557.57, 1.34], [557.94, 1.22], [558.39, 1.43], [558.84, 1.5], [559.44, 1.48],
  [560.04, 1.43], [560.57, 1.39], [561.17, 1.36], [561.69, 1.25], [562.07, 1.18], [562.44, 1.22], [562.82, 1.38], [563.19, 1.45], [563.94, 1.54], [564.69, 1.52],
  [565.44, 1.5], [566.04, 1.43], [566.56, 1.54], [567.09, 1.52], [567.69, 1.5], [568.44, 1.48], [569.19, 1.5], [569.79, 1.45], [570.16, 1.43], [570.69, 1.47],
  [571.44, 1.5], [572.19, 1.54], [572.94, 1.57], [573.68, 1.59], [574.28, 1.61], [574.58, 1.48], [575.04, 1.36], [575.56, 1.25], [576.16, 1.2], [576.68, 1.16],
  [577.06, 1.18], [577.58, 1.22], [578.18, 1.31], [578.78, 1.43], [579.31, 1.43], [579.68, 1.31], [580.28, 1.22], [580.66, 1.13], [581.18, 1.29], [581.78, 1.27],
  [582.31, 1.32], [582.68, 1.25], [583.06, 1.39], [583.58, 1.36], [584.18, 1.45], [584.78, 1.54], [585.31, 1.57], [586.06, 1.57], [586.81, 1.57], [587.56, 1.55],
  [588.3, 1.56], [589.05, 1.55], [589.8, 1.55], [590.55, 1.54], [591.3, 1.52], [592.05, 1.47], [592.8, 1.54], [593.4, 1.64], [593.92, 1.68], [594.53, 1.7],
  [595.05, 1.68], [595.8, 1.64], [596.55, 1.57], [597.07, 1.45], [597.45, 1.11], [597.82, 1.08], [598.27, 1.09], [598.8, 1.2], [599.17, 1.38], [599.55, 1.39],
  [600, 1.38],
];
const hatchC: [number, number] = [410.61, 432.44];
const bandsC: Band[] = [
  [400, 424.1, "g"], [424.1, 433, "o"], [433, 478.7, "y"], [478.7, 538.2, "g"], [538.2, 542.7, "o"], [542.7, 562.7, "y"], [562.7, 600, "g"],
];
const barsC: Bar[] = [
  [400, 423.8, 6.17, "c"], [478.7, 506.8, 6.17, "a"], [511.8, 537.6, 6.17, "c"], [563.2, 575.2, 6.97, "a"], [583.4, 597.1, 6.97, "c"],
];
const notesC: Note[] = [];
const smallNotesC: Note[] = [["12.1", 428.7, 6.43], ["14.1", 540.7, 7.39]];
const stagesC: Label[] = [["11", 412.9], ["12", 451.1], ["13", 509.6], ["14", 550.8], ["15", 582.5]];
const boundsC: Label[] = [["11/12", 423.9], ["12/13", 478.1], ["13/14", 532.8], ["14/15", 562.4]];
const letterC: Note = ["C", 404.5, 7.6];
const xTicksC = [400, 450, 500, 550, 600];
const rTicksC = [1, 1.5, 2, 2.5, 3];

// shared
const leftTicks = [0, 1, 2, 3, 4, 5, 6, 7, 8];
const leftMinor = [0.5, 1.5, 2.5, 3.5, 4.5, 5.5, 6.5, 7.5];
const dottedLevels = [3, 3.5, 4, 4.5];

// ================= styling =================
const FONT = '"Liberation Sans", Arial, Helvetica, sans-serif';
const YELLOW = "#ebd33d";
const BAND_COLORS: Record<string, string> = { g: "#d6d6d6", y: "#e9e4c2", o: "#f0c98b" };
const BAR_COLOR = "#a08b30";
const W = 1104;
const PLOT_LEFT = 81;
const PLOT_RIGHT = 1040;
const TOP_PAD = 22;

interface PanelCfg {
  key: string;
  canvasTop: number;
  height: number;
  axisH: number;
  xMin: number;
  xMax: number;
  rMax: number;
  xTicks: number[];
  rTicks: number[];
  upper: Pair[];
  lower: Pair[];
  caTi: Pair[];
  hatch: [number, number] | null;
  bands: Band[];
  bars: Bar[];
  notes: Note[];
  smallNotes: Note[];
  stages: Label[];
  bounds: Label[];
  letter: Note;
}

const PANELS: PanelCfg[] = [
  {
    key: "A", canvasTop: 0, height: 455, axisH: 60, xMin: 0, xMax: 200, rMax: 2.6, xTicks: xTicksA, rTicks: rTicksA,
    upper: upperA, lower: lowerA, caTi: caTiA, hatch: null, bands: bandsA, bars: barsA, notes: notesA, smallNotes: smallNotesA,
    stages: stagesA, bounds: boundsA, letter: letterA,
  },
  {
    key: "B", canvasTop: 466, height: 458, axisH: 58, xMin: 200, xMax: 400, rMax: 3.2, xTicks: xTicksB, rTicks: rTicksB,
    upper: upperB, lower: lowerB, caTi: caTiB, hatch: null, bands: bandsB, bars: barsB, notes: notesB, smallNotes: smallNotesB,
    stages: stagesB, bounds: boundsB, letter: letterB,
  },
  {
    key: "C", canvasTop: 936, height: 447, axisH: 47, xMin: 400, xMax: 600, rMax: 3, xTicks: xTicksC, rTicks: rTicksC,
    upper: upperC, lower: lowerC, caTi: caTiC, hatch: hatchC, bands: bandsC, bars: barsC, notes: notesC, smallNotes: smallNotesC,
    stages: stagesC, bounds: boundsC, letter: letterC,
  },
];

function decorPlugin(p: PanelCfg) {
  return {
    id: "decor" + p.key,
    beforeDatasetsDraw(chart: any) {
      const { ctx, chartArea } = chart;
      const { left, right, top, bottom } = chartArea;
      const xs = chart.scales.x;
      const ys = chart.scales.y;
      ctx.save();
      for (const [a, b, k] of p.bands) {
        const x0 = Math.round(xs.getPixelForValue(a));
        const x1 = Math.round(xs.getPixelForValue(b));
        ctx.fillStyle = BAND_COLORS[k];
        ctx.fillRect(x0, top, x1 - x0, bottom - top);
      }
      ctx.strokeStyle = "#222";
      ctx.lineWidth = 1.1;
      ctx.setLineDash([2, 2.4]);
      for (const v of dottedLevels) {
        const py = Math.round(ys.getPixelForValue(v)) + 0.5;
        ctx.beginPath();
        ctx.moveTo(left, py);
        ctx.lineTo(right, py);
        ctx.stroke();
      }
      ctx.restore();
    },
    afterDatasetsDraw(chart: any) {
      const { ctx, chartArea } = chart;
      const { left, right, top, bottom } = chartArea;
      const xs = chart.scales.x;
      const ys = chart.scales.y;
      const h = bottom - top;
      ctx.save();
      // olive bars
      for (const [a, b, v, lab] of p.bars) {
        const x0 = xs.getPixelForValue(a);
        const x1 = xs.getPixelForValue(b);
        const py = ys.getPixelForValue(v);
        ctx.fillStyle = BAR_COLOR;
        ctx.fillRect(x0, py - 6, x1 - x0, 12);
        ctx.fillStyle = "#f0e7bd";
        ctx.font = `12px ${FONT}`;
        ctx.textAlign = "center";
        ctx.textBaseline = "middle";
        ctx.fillText(lab, (x0 + x1) / 2, py);
      }
      // annotations
      ctx.fillStyle = "#222";
      ctx.textAlign = "center";
      ctx.textBaseline = "middle";
      ctx.font = `12px ${FONT}`;
      for (const [t, a, v] of p.notes) ctx.fillText(t, xs.getPixelForValue(a), ys.getPixelForValue(v));
      ctx.fillStyle = "#333";
      ctx.font = `bold 10px ${FONT}`;
      for (const [t, a, v] of p.smallNotes) ctx.fillText(t, xs.getPixelForValue(a), ys.getPixelForValue(v));
      ctx.fillStyle = "#222";
      ctx.font = `32px ${FONT}`;
      ctx.fillText(p.letter[0], xs.getPixelForValue(p.letter[1]), ys.getPixelForValue(p.letter[2]));

      // frame
      ctx.strokeStyle = "#000";
      ctx.lineWidth = 1.5;
      ctx.strokeRect(left, top, right - left, bottom - top);
      // top ticks at major x ticks
      for (const v of p.xTicks) {
        const px = xs.getPixelForValue(v);
        ctx.beginPath();
        ctx.moveTo(px, top);
        ctx.lineTo(px, top - 6);
        ctx.stroke();
      }
      // left minor ticks
      ctx.lineWidth = 1;
      for (const v of leftMinor) {
        const py = ys.getPixelForValue(v);
        ctx.beginPath();
        ctx.moveTo(left, py);
        ctx.lineTo(left - 3, py);
        ctx.stroke();
      }
      // stage boundary labels (LR04)
      ctx.strokeStyle = "#777";
      ctx.lineWidth = 1;
      ctx.fillStyle = "#333";
      ctx.font = `9px ${FONT}`;
      for (const [t, a] of p.bounds) {
        const px = xs.getPixelForValue(a);
        ctx.beginPath();
        ctx.moveTo(px, top - 4);
        ctx.lineTo(px, top);
        ctx.stroke();
        ctx.fillText(t, px, top - 10);
      }
      ctx.fillStyle = "#222";
      ctx.font = `12px ${FONT}`;
      ctx.fillText("LR04", left - 3, top - 10);
      for (const [t, a] of p.stages) ctx.fillText(t, xs.getPixelForValue(a), top + 11);

      // axis titles
      ctx.fillStyle = "#222";
      ctx.font = `18px ${FONT}`;
      ctx.fillText("Age (ka)", (left + right) / 2, bottom + 37);

      ctx.save();
      ctx.translate(1086, top + 0.81 * h);
      ctx.rotate(Math.PI / 2);
      ctx.font = `18px ${FONT}`;
      ctx.fillText("log(Ca/Ti)", 0, 0);
      ctx.restore();

      ctx.save();
      ctx.translate(27, top + 0.28 * h);
      ctx.rotate(-Math.PI / 2);
      const big = `20px ${FONT}`;
      const small = `12px ${FONT}`;
      ctx.font = big;
      const wd = ctx.measureText("δ").width;
      const wo = ctx.measureText("O").width;
      ctx.font = small;
      const ws = ctx.measureText("18").width;
      let x0 = -(wd + ws + wo) / 2;
      ctx.textAlign = "left";
      ctx.textBaseline = "alphabetic";
      ctx.font = big;
      ctx.fillText("δ", x0, 7);
      x0 += wd;
      ctx.font = small;
      ctx.fillText("18", x0, -3);
      x0 += ws;
      ctx.font = big;
      ctx.fillText("O", x0, 7);
      ctx.restore();

      ctx.restore();
    },
  };
}

function buildChart(canvas: HTMLCanvasElement, p: PanelCfg) {
  const ctx0 = canvas.getContext("2d")!;
  const toXY = (arr: Pair[]) => arr.map(([x, y]) => ({ x, y }));

  const segments: { data: Pair[]; hatched: boolean }[] = [];
  if (p.hatch) {
    const [h0, h1] = p.hatch;
    segments.push({ data: p.caTi.filter(([x]) => x <= h0), hatched: false });
    segments.push({ data: p.caTi.filter(([x]) => x >= h0 && x <= h1), hatched: true });
    segments.push({ data: p.caTi.filter(([x]) => x >= h1), hatched: false });
  } else {
    segments.push({ data: p.caTi, hatched: false });
  }

  let pattern: CanvasPattern | null = null;
  if (p.hatch) {
    const pc = document.createElement("canvas");
    pc.width = 5;
    pc.height = 8;
    const c = pc.getContext("2d")!;
    c.fillStyle = YELLOW;
    c.fillRect(0, 0, 3, 8);
    pattern = ctx0.createPattern(pc, "repeat");
  }

  const datasets: any[] = [
    {
      label: "upper",
      data: toXY(p.upper),
      yAxisID: "y",
      borderColor: "#000",
      borderWidth: 3.2,
      pointRadius: 2.6,
      pointBackgroundColor: "#fff",
      pointBorderColor: "#555",
      pointBorderWidth: 0.8,
      fill: false,
      order: 1,
    },
    {
      label: "lower",
      data: toXY(p.lower),
      yAxisID: "y",
      borderColor: "#000",
      borderWidth: 1.8,
      pointRadius: 4,
      pointBackgroundColor: "#fff",
      pointBorderColor: "#444",
      pointBorderWidth: 0.9,
      fill: false,
      order: 2,
    },
    ...segments.map((s, i) => ({
      label: "caTi" + i,
      data: toXY(s.data),
      yAxisID: "y2",
      borderColor: "#111",
      borderWidth: 2.1,
      pointRadius: 0,
      fill: "start",
      backgroundColor: s.hatched && pattern ? pattern : YELLOW,
      order: 5,
    })),
  ];

  const tickFont = { size: 15, family: FONT };
  const gridCfg = { display: true, drawOnChartArea: false, drawTicks: true, tickLength: 6, tickColor: "#000", tickWidth: 1.3 };
  const borderCfg = { display: true, color: "#000", width: 1.5 };

  return new Chart(canvas, {
    type: "line",
    data: { datasets },
    options: {
      responsive: false,
      animation: false,
      devicePixelRatio: 1,
      events: [],
      layout: { padding: { top: TOP_PAD, left: 0, right: 0, bottom: 0 } },
      elements: { line: { tension: 0 } },
      plugins: { legend: { display: false }, tooltip: { enabled: false } },
      scales: {
        x: {
          type: "linear",
          position: "bottom",
          min: p.xMin,
          max: p.xMax,
          afterBuildTicks: (s: any) => {
            s.ticks = p.xTicks.map((v) => ({ value: v }));
          },
          afterFit: (s: any) => {
            s.height = p.axisH;
          },
          ticks: { font: tickFont, color: "#222", padding: 2, maxRotation: 0, autoSkip: false, callback: (v: any) => String(v) },
          grid: gridCfg,
          border: borderCfg,
        },
        y: {
          type: "linear",
          position: "left",
          reverse: true,
          min: -0.5,
          max: 8,
          afterBuildTicks: (s: any) => {
            s.ticks = leftTicks.map((v) => ({ value: v }));
          },
          afterFit: (s: any) => {
            s.width = PLOT_LEFT;
          },
          ticks: { font: tickFont, color: "#222", padding: 5, autoSkip: false, callback: (v: any) => String(v) },
          grid: gridCfg,
          border: borderCfg,
        },
        y2: {
          type: "linear",
          position: "right",
          min: 1,
          max: p.rMax,
          afterBuildTicks: (s: any) => {
            s.ticks = p.rTicks.map((v) => ({ value: v }));
          },
          afterFit: (s: any) => {
            s.width = W - PLOT_RIGHT;
          },
          ticks: { font: tickFont, color: "#222", padding: 5, autoSkip: false, callback: (v: any) => String(v) },
          grid: gridCfg,
          border: borderCfg,
        },
      },
    } as any,
    plugins: [decorPlugin(p)],
  });
}

function Panel({ p }: { p: PanelCfg }) {
  const ref = useRef<HTMLCanvasElement>(null);
  useEffect(() => {
    if (!ref.current) return;
    const chart = buildChart(ref.current, p);
    return () => chart.destroy();
  }, [p]);
  return (
    <canvas
      ref={ref}
      width={W}
      height={p.height}
      style={{ position: "absolute", left: 0, top: p.canvasTop, width: W, height: p.height, display: "block" }}
    />
  );
}

export default function App() {
  Chart.defaults.font.family = FONT;
  Chart.defaults.color = "#222";
  return (
    <div style={{ position: "absolute", left: 0, top: 0, width: W, height: 1383, background: "#fff" }}>
      {PANELS.map((p) => (
        <Panel key={p.key} p={p} />
      ))}
    </div>
  );
}
